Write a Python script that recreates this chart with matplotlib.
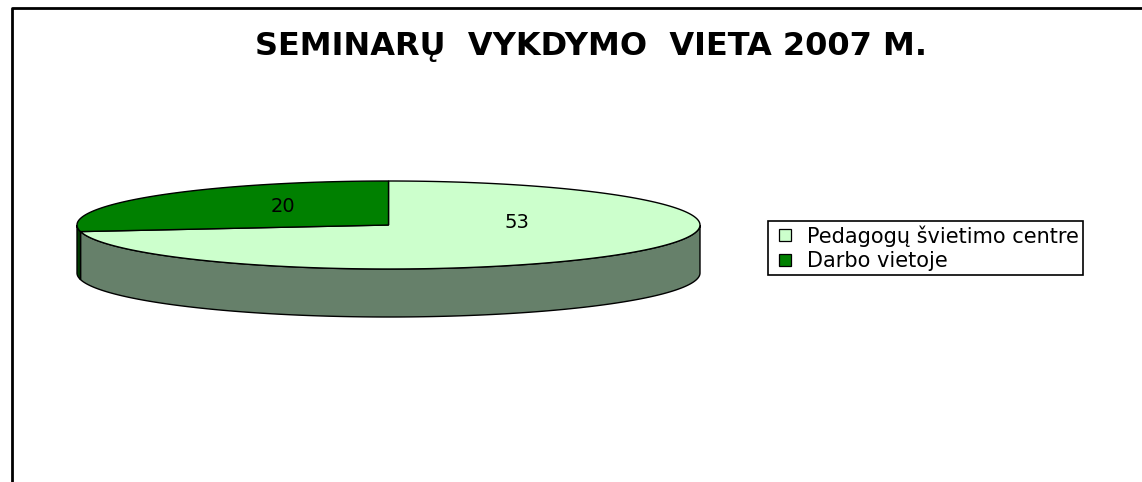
import matplotlib
matplotlib.use("Agg")
import matplotlib.pyplot as plt
import numpy as np
from matplotlib.patches import Polygon
from matplotlib.lines import Line2D

labels = ["Pedagogų švietimo centre", "Darbo vietoje"]
values = [53, 20]
top_colors = ["#ccffcc", "#008000"]
side_colors = ["#66806a", "#003c00"]

# ellipse geometry (pixel coords)
CX, CY, A, B, DEPTH = 388.5, 225.0, 311.5, 44.0, 48.0


def pt(theta_deg, dy=0.0):
    t = np.radians(theta_deg)
    return CX + A * np.cos(t), CY - B * np.sin(t) + dy


def arc(t0, t1, dy=0.0, n=200):
    ts = np.linspace(t0, t1, n)
    return np.array([pt(t, dy) for t in ts])


fig = plt.figure(figsize=(11.42, 4.82), dpi=100)
ax = fig.add_axes([0, 0, 1, 1])
ax.set_xlim(0, 1142)
ax.set_ylim(482, 0)
ax.axis("off")

# slices: the small one (Darbo vietoje) runs counter-clockwise from the top
total = sum(values)
spans = [v / total * 360 for v in values]
green_start = 90.0
green_end = green_start + spans[1]
slices = [(green_end, green_end + spans[0]), (green_start, green_end)]

# side walls (visible front half: 180..360)
for i, (s, e) in enumerate(slices):
    lo, hi = max(s, 180), min(e, 360)
    if hi > lo:
        upper = arc(lo, hi)
        lower = arc(hi, lo, DEPTH)
        ax.add_patch(Polygon(np.vstack([upper, lower]), closed=True,
                             facecolor=side_colors[i], edgecolor="black", lw=1))

# top faces
for i, (s, e) in enumerate(slices):
    poly = np.vstack([[CX, CY], arc(s, e)])
    ax.add_patch(Polygon(poly, closed=True, facecolor=top_colors[i],
                         edgecolor="black", lw=1))

# value labels
label_pos = [(517, 223), (283, 207)]
for i, v in enumerate(values):
    x, y = label_pos[i]
    ax.text(x, y, str(v), ha="center", va="center", fontsize=14,
            family="DejaVu Sans")

fig.text(591 / 1142, 1 - 47 / 482, "SEMINARŲ  VYKDYMO  VIETA 2007 M.",
         ha="center", va="center", fontsize=23, fontweight="bold",
         family="DejaVu Sans")

# frame
ax.plot([12, 12, 1142], [482, 7.5, 7.5], color="black", lw=2, solid_capstyle="butt")

handles = [Line2D([], [], marker="s", linestyle="none", markersize=9,
                  markerfacecolor=c, markeredgecolor="black", markeredgewidth=0.9)
           for c in top_colors]
leg = fig.legend(handles, labels, loc="upper left",
                 bbox_to_anchor=(768 / 1142, 1 - 221 / 482),
                 frameon=True, fancybox=False, edgecolor="black", framealpha=1,
                 prop={"family": "DejaVu Sans", "size": 15},
                 handlelength=1.25, handletextpad=0.4,
                 borderpad=0.2, labelspacing=0.2, borderaxespad=0)
leg.get_frame().set_linewidth(1.2)

fig.savefig("out.png", dpi=100)
